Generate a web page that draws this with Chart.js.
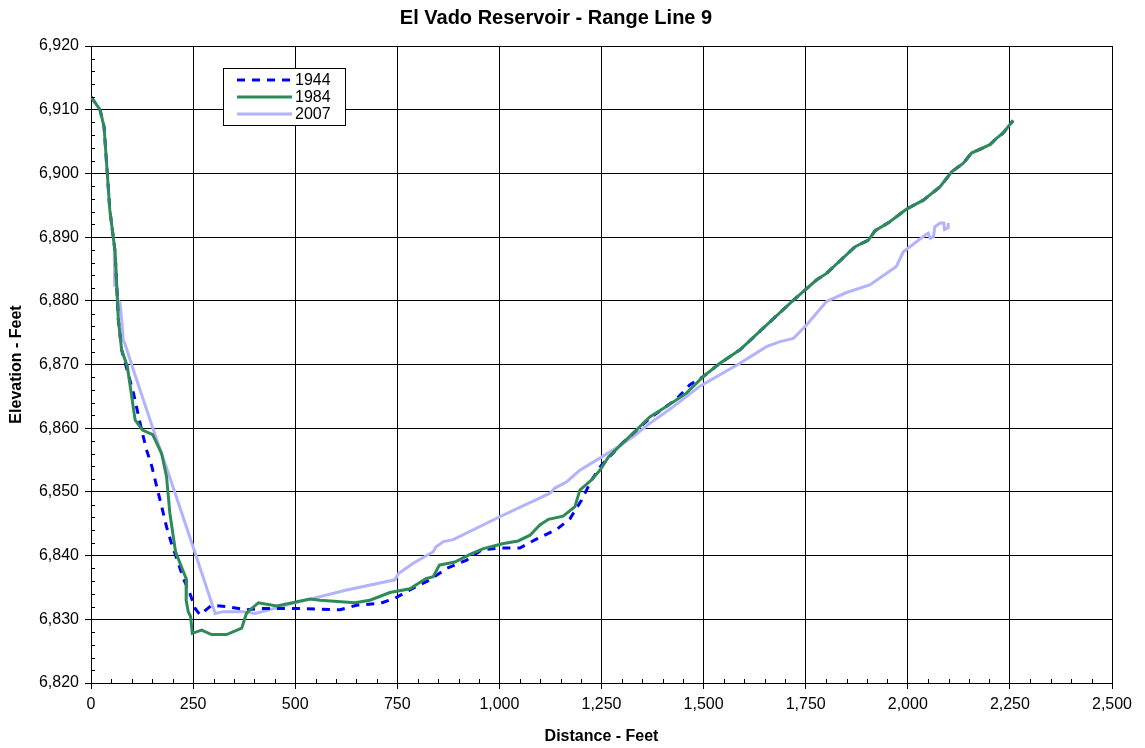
<!DOCTYPE html>
<html>
<head>
<meta charset="utf-8">
<title>El Vado Reservoir - Range Line 9</title>
<script src="https://cdn.jsdelivr.net/npm/chart.js@4/dist/chart.umd.min.js"></script>
<style>
  body { margin: 0; background: #fff; }
  #wrap { width: 1145px; height: 748px; }
</style>
</head>
<body>
<div id="wrap"><canvas id="rangeChart" width="1145" height="748"></canvas></div>
<script>
// survey data (distance ft, elevation ft)
const dist1944 = [0, 22, 32, 46, 59, 67, 75, 104, 124, 136, 149, 161, 173, 185, 198, 214, 226, 242, 255, 267,
  295, 332, 381, 414, 512, 610, 650, 708, 744, 789, 830, 871, 920, 957, 1006, 1050, 1094, 1140, 1173, 1201,
  1226, 1250, 1300, 1369, 1434, 1466, 1499, 1540, 1589, 1646, 1720, 1777, 1801, 1871, 1903, 1920, 1956, 1997,
  2038, 2079, 2108, 2136, 2156, 2201, 2217, 2233, 2258];
const elev1944 = [6912.0, 6910.0, 6907.3, 6894.3, 6887.7, 6877.0, 6872.3, 6865.5, 6859.7, 6856.6, 6854.0, 6850.8,
  6847.7, 6844.5, 6841.7, 6838.8, 6836.4, 6834.1, 6831.7, 6830.7, 6832.2, 6832.0, 6831.5, 6831.7, 6831.7, 6831.5,
  6832.2, 6832.5, 6833.3, 6834.9, 6836.2, 6838.0, 6839.3, 6840.9, 6841.2, 6841.2, 6842.7, 6844.1, 6845.8, 6848.7,
  6851.9, 6854.2, 6857.6, 6861.6, 6864.6, 6866.8, 6868.1, 6870.2, 6872.3, 6875.7, 6880.1, 6883.3, 6884.3, 6888.5,
  6889.5, 6891.0, 6892.4, 6894.4, 6895.8, 6897.9, 6900.3, 6901.6, 6903.2, 6904.5, 6905.5, 6906.3, 6908.3];

const dist1984 = [0, 22, 32, 46, 59, 67, 75, 89, 108, 126, 151, 173, 185, 193, 207, 218, 234, 233, 238, 244, 248,
  271, 295, 332, 369, 381, 410, 455, 536, 561, 646, 683, 732, 781, 820, 838, 853, 891, 928, 961, 1010, 1046, 1075,
  1099, 1120, 1156, 1185, 1197, 1226, 1246, 1267, 1369, 1409, 1458, 1499, 1540, 1589, 1646, 1720, 1777, 1801, 1871,
  1903, 1920, 1956, 1997, 2038, 2079, 2108, 2136, 2156, 2201, 2217, 2233, 2258];
const elev1984 = [6912.0, 6910.0, 6907.3, 6894.3, 6887.7, 6877.0, 6872.3, 6869.7, 6861.3, 6859.7, 6859.0, 6856.0,
  6852.4, 6846.7, 6840.6, 6838.8, 6836.2, 6833.0, 6831.2, 6830.4, 6827.8, 6828.3, 6827.6, 6827.6, 6828.6, 6831.0,
  6832.6, 6832.1, 6833.2, 6833.0, 6832.6, 6833.0, 6834.2, 6834.8, 6836.4, 6836.7, 6838.5, 6839.0, 6840.2, 6841.1,
  6841.9, 6842.3, 6843.2, 6844.8, 6845.7, 6846.2, 6847.7, 6850.3, 6851.9, 6853.4, 6855.5, 6861.8, 6863.4, 6865.5,
  6868.1, 6870.2, 6872.3, 6875.7, 6880.1, 6883.3, 6884.3, 6888.5, 6889.5, 6891.0, 6892.4, 6894.4, 6895.8, 6897.9,
  6900.3, 6901.6, 6903.2, 6904.5, 6905.5, 6906.3, 6908.3];

const dist2007 = [57, 58, 60, 62, 66, 71, 75, 79, 83, 104, 153, 185, 255, 304, 324, 373, 402, 495, 626, 744, 753,
  789, 838, 845, 863, 887, 1001, 1124, 1136, 1165, 1197, 1246, 1279, 1328, 1369, 1422, 1491, 1589, 1654, 1687, 1720,
  1752, 1801, 1850, 1907, 1972, 1989, 2042, 2050, 2055, 2063, 2066, 2079, 2088, 2090, 2099, 2099];
const elev2007 = [6887.7, 6882.2, 6886.0, 6883.0, 6880.0, 6879.7, 6877.0, 6873.8, 6873.3, 6869.1, 6859.7, 6853.8,
  6840.4, 6830.9, 6831.2, 6831.2, 6830.9, 6832.5, 6834.6, 6836.2, 6837.2, 6838.8, 6840.6, 6841.4, 6842.2, 6842.5,
  6846.1, 6849.8, 6850.6, 6851.6, 6853.4, 6855.3, 6856.6, 6858.7, 6860.8, 6863.2, 6866.6, 6870.2, 6872.8, 6873.6,
  6874.1, 6876.2, 6879.9, 6881.3, 6882.5, 6885.4, 6887.7, 6890.3, 6890.6, 6889.8, 6890.1, 6891.6, 6892.2, 6892.2,
  6891.2, 6891.5, 6892.2];

const xTicks = [0, 250, 500, 750, 1000, 1250, 1500, 1750, 2000, 2250, 2500];
const yTicks = [6820, 6830, 6840, 6850, 6860, 6870, 6880, 6890, 6900, 6910, 6920];

function toPoints(xs, ys) {
    return xs.map((x, i) => ({ x: x, y: ys[i] }));
}
function fmt(v) {
    return Number(v).toLocaleString('en-US');
}

const FONT = 'Arial, "Liberation Sans", sans-serif';

// little inward ticks between the labelled ones, like the spreadsheet axes
const minorTicks = {
    id: 'minorTicks',
    afterDraw(chart) {
        const ctx = chart.ctx, xs = chart.scales.x, ys = chart.scales.y;
        ctx.save();
        ctx.strokeStyle = '#000';
        ctx.lineWidth = 1;
        ctx.beginPath();
        for (let v = 50; v < 2500; v += 50) {
            if (v % 250 === 0) continue;
            const px = Math.round(xs.getPixelForValue(v)) + 0.5;
            ctx.moveTo(px, ys.bottom);
            ctx.lineTo(px, ys.bottom - 4);
        }
        for (let v = 6822; v < 6920; v += 2) {
            if (v % 10 === 0) continue;
            const py = Math.round(ys.getPixelForValue(v)) + 0.5;
            ctx.moveTo(xs.left, py);
            ctx.lineTo(xs.left + 4, py);
        }
        ctx.stroke();
        ctx.restore();
    }
};

// boxed legend sitting inside the plot, top left
const boxLegend = {
    id: 'boxLegend',
    afterDraw(chart) {
        const ctx = chart.ctx;
        const bx = 223, by = 68, bw = 122, bh = 57;
        ctx.save();
        ctx.fillStyle = '#fff';
        ctx.fillRect(bx, by, bw, bh);
        ctx.strokeStyle = '#000';
        ctx.lineWidth = 1;
        ctx.strokeRect(bx + 0.5, by + 0.5, bw, bh);
        const rows = [80, 97, 114];
        chart.data.datasets.forEach((ds, i) => {
            const y = rows[i];
            ctx.beginPath();
            ctx.strokeStyle = ds.borderColor;
            ctx.lineWidth = ds.borderWidth;
            ctx.setLineDash(ds.borderDash || []);
            ctx.moveTo(237, y);
            ctx.lineTo(292, y);
            ctx.stroke();
            ctx.setLineDash([]);
            ctx.fillStyle = '#000';
            ctx.font = '16px ' + FONT;
            ctx.textBaseline = 'middle';
            ctx.fillText(ds.label, 295, y + 1);
        });
        ctx.restore();
    }
};

new Chart('rangeChart', {
    type: 'scatter',
    data: {
        datasets: [{
            label: '1944',
            data: toPoints(dist1944, elev1944),
            borderColor: '#0000ff',
            borderWidth: 3,
            borderDash: [8, 7],
            showLine: true,
            pointRadius: 0,
            order: 1
        }, {
            label: '1984',
            data: toPoints(dist1984, elev1984),
            borderColor: '#2e8b57',
            borderWidth: 3,
            showLine: true,
            pointRadius: 0,
            order: 0
        }, {
            label: '2007',
            data: toPoints(dist2007, elev2007),
            borderColor: '#b3b3fd',
            borderWidth: 3,
            showLine: true,
            pointRadius: 0,
            order: 2
        }]
    },
    options: {
        responsive: false,
        animation: false,
        layout: { padding: { left: 0, right: 33, top: 0, bottom: 0 } },
        plugins: {
            legend: { display: false },
            tooltip: { enabled: false },
            title: {
                display: true,
                text: 'El Vado Reservoir - Range Line 9',
                color: '#000',
                font: { family: FONT, size: 20, weight: 'bold' },
                padding: { top: 6, bottom: 16 }
            }
        },
        scales: {
            x: {
                type: 'linear',
                min: 0,
                max: 2500,
                afterBuildTicks: (s) => { s.ticks = xTicks.map(v => ({ value: v })); },
                afterFit: (s) => { s.height = 65; },
                ticks: {
                    color: '#000',
                    padding: 6,
                    maxRotation: 0,
                    font: { family: FONT, size: 16 },
                    callback: (v) => fmt(v)
                },
                grid: { color: '#000', lineWidth: 1, drawTicks: true, tickLength: 6, tickColor: '#000' },
                border: { color: '#000', width: 1 },
                title: {
                    display: true,
                    text: 'Distance - Feet',
                    color: '#000',
                    font: { family: FONT, size: 16, weight: 'bold' },
                    padding: { top: 0, bottom: 2 }
                }
            },
            y: {
                type: 'linear',
                min: 6820,
                max: 6920,
                afterBuildTicks: (s) => { s.ticks = yTicks.map(v => ({ value: v })); },
                afterFit: (s) => { s.width = 91; },
                ticks: {
                    color: '#000',
                    padding: 6,
                    font: { family: FONT, size: 16 },
                    callback: (v) => fmt(v)
                },
                grid: { color: '#000', lineWidth: 1, drawTicks: true, tickLength: 6, tickColor: '#000' },
                border: { color: '#000', width: 1 },
                title: {
                    display: true,
                    text: 'Elevation - Feet',
                    color: '#000',
                    font: { family: FONT, size: 16, weight: 'bold' },
                    padding: { top: 7, bottom: 0 }
                }
            }
        }
    },
    plugins: [minorTicks, boxLegend]
});
</script>
</body>
</html>
